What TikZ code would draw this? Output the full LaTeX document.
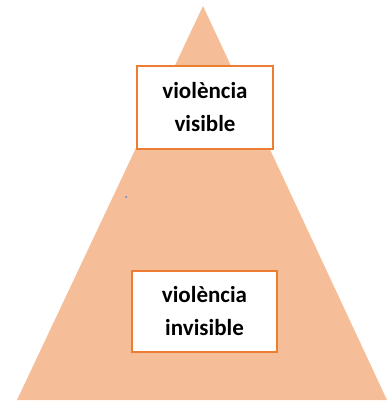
\documentclass[tikz,border=0pt]{standalone}
\usepackage{fontspec}
\setmainfont{Carlito}
\usetikzlibrary{positioning}
\definecolor{peach}{HTML}{F6BE98}
\definecolor{rim}{HTML}{ED7D31}
\definecolor{speck}{HTML}{5A78C8}

\begin{document}
\begin{tikzpicture}[x=1pt, y=-1pt, font=\fontsize{23}{33}\selectfont\bfseries,
    levelbox/.style={draw=rim, line width=2.4pt, fill=white, align=center, inner sep=0pt}]
        \useasboundingbox (0,0) rectangle (387,401);
        % pyramid
        \coordinate (apex) at (203,6);
        \coordinate (baseL) at (17,400);
        \coordinate (baseR) at (387,400);
        \fill[peach] (apex) -- (baseR) -- (baseL) -- cycle;
        \fill[speck] (126,197) circle[radius=1pt];
        % the two levels
        \node[levelbox, minimum width=136pt, minimum height=83pt] (visible) at (205,107.5) {violència\\visible};
        \node[levelbox, minimum width=145pt, minimum height=81pt] (invisible) at (204.5,311.5) {violència\\invisible};
    \end{tikzpicture}
\end{document}
